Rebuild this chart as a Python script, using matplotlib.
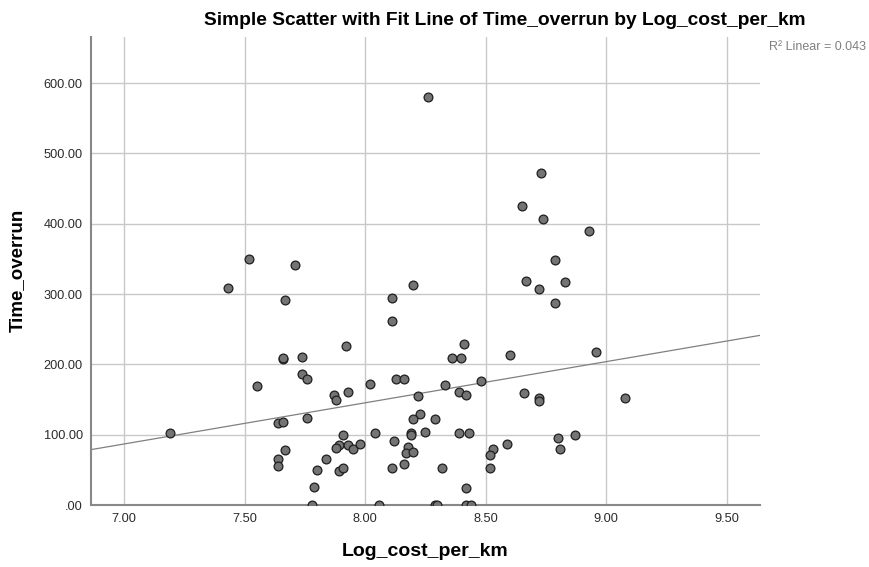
# scatter of time overrun vs log cost per km with linear fit line
import numpy as np
import matplotlib
matplotlib.use('Agg')
import matplotlib.pyplot as plt

plt.rcParams['font.family'] = ['Liberation Sans', 'DejaVu Sans']

log_cost = [7.19, 7.43, 7.67, 7.55, 7.66, 7.66, 7.74, 7.74, 7.76, 7.92,
            7.87, 7.88, 7.93, 8.02, 8.11, 8.11, 8.20, 8.13, 8.16, 8.22,
            8.23, 8.20, 8.19, 8.19, 8.25, 7.64, 7.66, 7.76, 8.04, 7.91,
            7.89, 7.88, 7.93, 7.95, 7.98, 8.12, 8.18, 8.17, 8.20, 7.67,
            7.64, 7.64, 7.84, 7.80, 7.89, 7.91, 8.11, 8.16, 7.79, 7.78,
            8.06, 8.67, 8.83, 8.72, 8.79, 8.41, 8.36, 8.40, 8.60, 8.96,
            8.48, 8.33, 8.39, 8.42, 8.66, 8.72, 8.72, 9.08, 8.29, 8.39,
            8.43, 8.87, 8.80, 8.81, 8.59, 8.53, 8.52, 8.52, 8.32, 8.42,
            8.29, 8.30, 8.42, 8.44, 8.26, 7.52, 7.71, 8.73, 8.65, 8.74,
            8.93, 8.79]
time_overrun = [103, 309, 291, 169, 207, 209, 210, 187, 179, 226,
                157, 150, 161, 172, 294, 262, 313, 179, 179, 155,
                130, 122, 103, 100, 104, 116, 118, 124, 103, 100,
                86, 81, 85, 79, 87, 91, 82, 74, 75, 78,
                65, 55, 65, 50, 48, 52, 52, 59, 26, 0,
                0, 319, 317, 307, 287, 229, 209, 209, 213, 218,
                177, 170, 161, 157, 159, 152, 148, 152, 123, 103,
                103, 100, 96, 80, 87, 79, 71, 52, 52, 24,
                0, 0, 0, 0, 580, 350, 342, 472, 425, 407,
                389, 349]

x_ticks = [7.0, 7.5, 8.0, 8.5, 9.0, 9.5]
y_ticks = [0, 100, 200, 300, 400, 500, 600]

x = np.array(log_cost)
y = np.array(time_overrun)
slope, intercept = np.polyfit(x, y, 1)
r2 = np.corrcoef(x, y)[0, 1] ** 2

fig = plt.figure(figsize=(8.69, 5.67), dpi=100)
ax = fig.add_axes([0.1047, 0.1093, 0.7699, 0.826])

xlim = (6.863, 9.639)
ax.set_xlim(xlim)
ax.set_ylim(0, 666)

ax.grid(True, color='#c8c8c8', linewidth=1.0)
ax.set_axisbelow(True)

xl = np.array(xlim)
ax.plot(xl, intercept + slope * xl, color='#808080', linewidth=0.9, zorder=2)
ax.scatter(x, y, s=40, facecolor='#747474', edgecolor='#1e1e1e',
           linewidth=0.9, zorder=3)

ax.set_xticks(x_ticks)
ax.set_xticklabels(['%.2f' % v for v in x_ticks])
ax.set_yticks(y_ticks)
ax.set_yticklabels(['.00' if v == 0 else '%.2f' % v for v in y_ticks])
ax.tick_params(length=0, labelsize=9.2, colors='#2a2a2a', pad=6)

for side in ['top', 'right']:
    ax.spines[side].set_visible(False)
ax.spines['left'].set_color('#888888')
ax.spines['left'].set_linewidth(1.5)
ax.spines['bottom'].set_color('#888888')
ax.spines['bottom'].set_linewidth(1.5)

ax.set_xlabel('Log_cost_per_km', fontsize=14, fontweight='bold', labelpad=13)
ax.set_ylabel('Time_overrun', fontsize=13.5, fontweight='bold', labelpad=13)

fig.text(0.581, 0.963, 'Simple Scatter with Fit Line of Time_overrun by Log_cost_per_km',
         ha='center', va='center', fontsize=13.8, fontweight='bold')
fig.text(0.997, 0.917, 'R\u00b2 Linear = %.3f' % r2, ha='right', va='center',
         fontsize=9, color='#808080')

fig.savefig('out.png', dpi=100)
